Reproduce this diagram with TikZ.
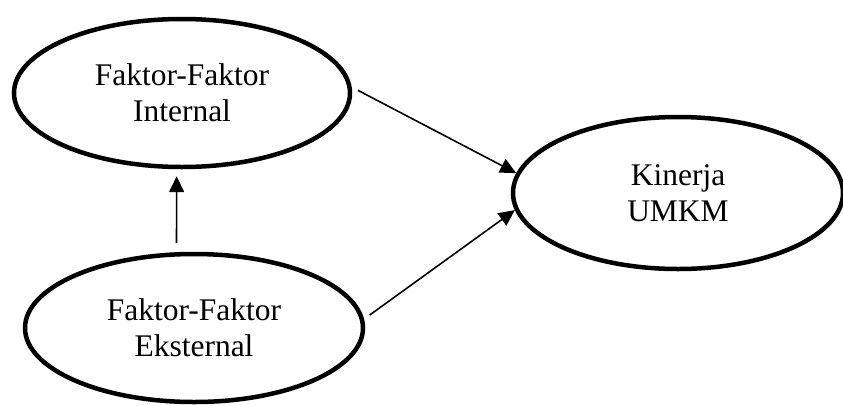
\documentclass[tikz,border=0pt]{standalone}
\usepackage{fontspec}
\setmainfont{Liberation Serif}
\usetikzlibrary{shapes.geometric,arrows.meta}

\begin{document}
\begin{tikzpicture}[x=1pt, y=-1pt,
    factor/.style={draw, ellipse, line width=4.5pt, minimum width=336pt, minimum height=148pt,
                   align=center, font=\fontsize{31.5}{36}\selectfont},
    link/.style={line width=1.6pt, -{Triangle[length=16pt,width=15pt]}}]
\useasboundingbox (0, 0) rectangle (843, 405);

\node[factor] (int) at (182, 93)  {Faktor-Faktor\\Internal};
\node[factor, minimum width=338pt] (ext) at (194, 328) {Faktor-Faktor\\Eksternal};
\node[factor, minimum width=330pt, minimum height=152pt] (kin) at (678, 193) {Kinerja\\UMKM};

\draw[link, shorten <=7pt] (int.2) -- (kin.173);
\draw[link, shorten <=7pt] (ext.3) -- (kin.186);
\draw[link, shorten <=9pt, shorten >=7pt] (ext.103) -- (int.266);
\end{tikzpicture}
\end{document}
